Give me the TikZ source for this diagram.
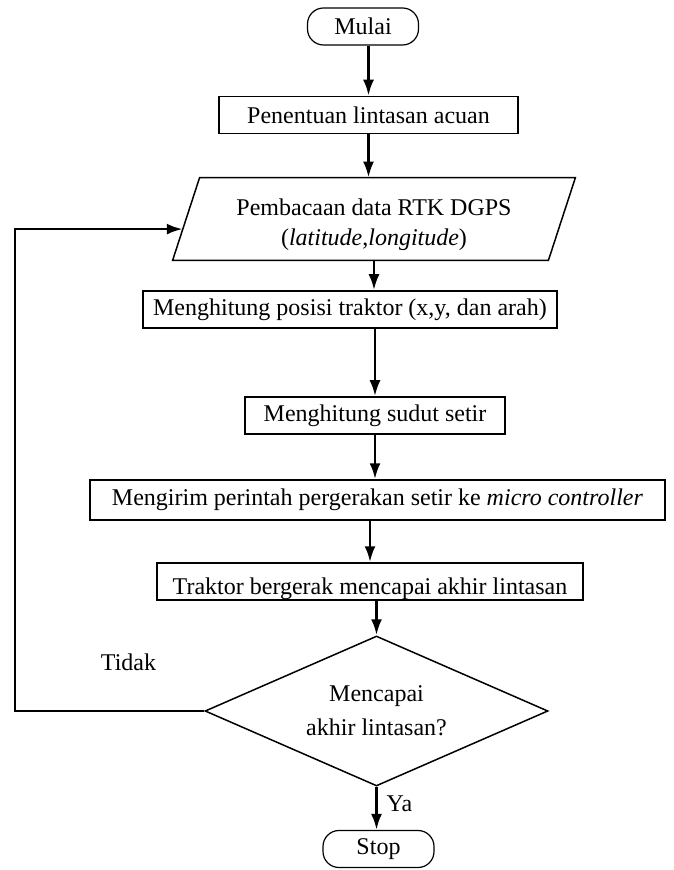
\documentclass[tikz,border=0pt]{standalone}
\usepackage{fontspec}
\setmainfont{Liberation Serif}
\usetikzlibrary{shapes.geometric,arrows.meta,calc}

\tikzset{
  term/.style={draw,line width=0.6pt,rounded corners=8pt,minimum width=55.5pt,minimum height=18.5pt},
  proc/.style={draw,line width=0.75pt,minimum height=18.5pt,inner sep=2pt},
  flow/.style={line width=1.4pt,-{Latex[length=8pt,width=5.5pt]}},
}

\begin{document}
\begin{tikzpicture}[x=0.5pt,y=-0.5pt,font=\fontsize{12}{15}\selectfont]
  \useasboundingbox (0,0) rectangle (673,870);
  \node[term] (mulai) at (363,26.5) {Mulai};
  \node[proc,minimum width=149.5pt] (tentu) at (368.5,115) {Penentuan lintasan acuan};
  \node[minimum width=187.5pt,minimum height=41pt,align=center] (baca) at (374,225)
    {Pembacaan data RTK DGPS\\(\textit{latitude},\textit{longitude})};
  % jajaran genjang sedikit di atas teksnya
  \coordinate (bacaNW) at ([shift={(6.75pt,3pt)}]baca.north west);
  \coordinate (bacaNE) at ([shift={(6.75pt,3pt)}]baca.north east);
  \coordinate (bacaSE) at ([shift={(-6.75pt,3pt)}]baca.south east);
  \coordinate (bacaSW) at ([shift={(-6.75pt,3pt)}]baca.south west);
  \draw[line width=0.75pt] (bacaNW) -- (bacaNE) -- (bacaSE) -- (bacaSW) -- cycle;
  \node[proc,minimum width=207pt] (posisi) at (350,309.5) {Menghitung posisi traktor (x,y, dan arah)};
  \node[proc,minimum width=130pt] (sudut) at (375,415.5) {Menghitung sudut setir};
  \node[proc,minimum width=287.5pt,minimum height=20pt] (kirim) at (377.5,500)
    {Mengirim perintah pergerakan setir ke \textit{micro controller}};
  \node[proc,minimum width=213pt] (traktor) at (370,581.5) {};
  % tulisan terpotong garis bawah kotak
  \begin{scope}
    \clip (traktor.south west) rectangle (traktor.north east);
    \node[anchor=base] (traktorteks) at (370,594) {Traktor bergerak mencapai akhir lintasan};
  \end{scope}
  \node[diamond,draw,line width=0.75pt,aspect=2.3,minimum width=171.5pt,minimum height=75pt,
    inner sep=0pt,align=center] (cek) at (376.5,711) {Mencapai\\[2pt]akhir lintasan?};
  \node[term] (stop) at (378.5,849) {Stop};

  \draw[flow] (mulai.south -| tentu.north) -- (tentu.north);
  \draw[flow] (tentu.south) -- (tentu.south |- bacaNW);
  \draw[flow] (baca.south |- bacaSW) -- (baca.south |- posisi.north);
  \draw[flow] (posisi.south -| sudut.north) -- (sudut.north);
  \draw[flow] (sudut.south) -- (sudut.south |- kirim.north);
  \draw[flow] (kirim.south -| traktor.north) -- (traktor.north);
  \draw[flow] (traktor.south -| cek.north) -- (cek.north);
  \draw[flow] (cek.south) -- (cek.south |- stop.north) node[pos=0.4,right=1pt] (ya) {Ya};
  \coordinate (masuk) at ($(bacaSW)!0.378!(bacaNW)$);
  \draw[flow] (cek.west) -- (15,711) node[pos=0.4,above=16pt] (tidak) {Tidak}
    |- (masuk);
\end{tikzpicture}
\end{document}
